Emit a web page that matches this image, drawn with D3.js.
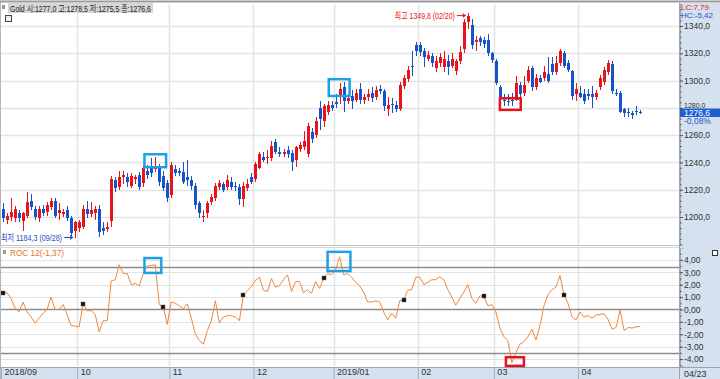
<!DOCTYPE html>
<html>
<head>
<meta charset="utf-8">
<script src="https://cdn.jsdelivr.net/npm/d3@7"></script>
<style>
  body { margin: 0; background: #fff; }
  svg { display: block; font-family: "Liberation Sans Narrow", "Liberation Sans", "Noto Sans CJK KR", sans-serif; }
</style>
</head>
<body>
<div id="chart"></div>
<script>
// Gold daily candles, 2018/09/04 ~ 2019/04/23 (one entry per trading day)
const opens = [
  1206,1198,1200,1199,1203,1197,1201,1212,1206,1199,1206,1204,1207,1212,1203,1202,1205,1199,1190,
  1192,1193,1206,1202,1203,1206,1192,1191,1197,1227,1222,1229,1229,1223,1228,1231,1225,1234,1236,1235,1237,1230,1225,
  1216,1235,1234,1233,1229,1227,1223,1210,1200,1203,1211,1214,1222,1224,1222,1226,1223,1222,1213,1221,1229,
  1228,1236,1244,1243,1243,1255,1248,1246,1249,1247,1242,1250,1251,1246,1262,1260,1280,1270,1277,1282,
  1284,1289,1295,1285,1289,1286,1294,1286,1288,1291,1288,1294,1292,1279,1283,1282,1279,1296,1301,1311,1326,
  1326,1322,1316,1318,1309,1313,1310,1314,1311,1307,1314,1323,1343,1341,1328,1331,1330,1330,1320,
  1314,1295,1286,1285,1286,1286,1297,1291,1300,1309,1295,1302,1302,1305,1312,1306,1313,1320,1313,1307,1290,
  1291,1290,1290,1290,1288,1295,1299,1306,1312,1291,1291,1279,1277,1276,1278,1277.0
];
const highs = [
  1210,1203,1214,1208,1205,1204,1218,1217,1208,1208,1209,1211,1214,1214,1210,1206,1208,1201,1197,
  1198,1209,1212,1211,1208,1209,1196,1196,1230,1229,1234,1234,1232,1232,1231,1233,1238,1238,1243,1244,1239,1234,1227,
  1240,1238,1236,1240,1242,1230,1225,1212,1205,1212,1217,1225,1227,1226,1231,1229,1226,1224,1226,1228,1232,
  1240,1248,1248,1249,1256,1257,1251,1250,1252,1249,1252,1255,1263,1269,1265,1273,1285,1283,1285,1285,
  1290,1298,1299,1290,1293,1294,1298,1290,1294,1295,1296,1297,1294,1288,1287,1285,1299,1304,1311,1322,1328,
  1328,1324,1322,1320,1318,1320,1322,1319,1320,1316,1325,1345,1349.8,1345,1333,1333,1332,1334,1321,
  1316,1297,1290,1290,1291,1303,1299,1303,1311,1311,1305,1304,1311,1317,1317,1318,1323,1322,1315,1308,1298,
  1296,1294,1294,1296,1293,1304,1310,1315,1314,1294,1292,1280,1280,1278,1281,1278.5
];
const lows = [
  1196,1195,1197,1196,1196,1190,1199,1205,1198,1196,1201,1201,1205,1199,1198,1200,1197,1186,1184.3,
  1189,1191,1199,1200,1198,1185,1187,1189,1193,1218,1220,1224,1222,1221,1224,1220,1222,1228,1229,1233,1223,1219,1211,
  1214,1230,1230,1224,1223,1220,1206,1199,1196,1199,1209,1212,1220,1218,1220,1220,1219,1209,1207,1219,1224,
  1226,1235,1240,1239,1241,1246,1244,1244,1243,1234,1237,1248,1249,1244,1254,1258,1264,1266,1275,1278,
  1280,1283,1277,1283,1279,1284,1283,1283,1285,1284,1286,1290,1278,1274,1276,1277,1278,1294,1299,1303,1318,
  1318,1310,1314,1310,1306,1310,1306,1304,1309,1304,1312,1320,1338,1323,1322,1325,1324,1318,1313,
  1297,1284,1281,1281,1281,1285,1288,1289,1298,1292,1293,1298,1300,1298,1304,1304,1311,1309,1306,1286,1285,
  1287,1283,1286,1280,1286,1293,1297,1304,1290,1289,1276,1273,1273,1272,1275,1275.5
];
const closes = [
  1199,1201,1204,1206,1199,1203,1211,1207,1200,1206,1203,1209,1212,1201,1205,1204,1199,1188,1196,
  1196,1206,1202,1205,1206,1189,1190,1193,1228,1221,1229,1231,1226,1230,1229,1222,1236,1231,1232,1236,1226,1221,1214,
  1238,1232,1232,1226,1227,1223,1209,1203,1201,1210,1215,1223,1225,1220,1227,1222,1222,1213,1223,1224,1226,
  1239,1246,1242,1244,1252,1248,1246,1248,1246,1240,1251,1253,1256,1267,1257,1270,1272,1281,1282,1280,
  1283,1294,1285,1287,1285,1291,1286,1288,1290,1287,1293,1292,1281,1282,1282,1279,1297,1302,1308,1310,1322,
  1321,1317,1319,1313,1314,1317,1316,1310,1316,1314,1321,1343,1347,1326,1330,1328,1327,1320,1315,
  1298,1288,1285,1284,1285,1298,1290,1297,1308,1295,1302,1299,1306,1300,1306,1313,1322,1311,1308,1289,1294,
  1288,1285,1289,1288,1291,1302,1308,1313,1292,1290,1277,1276,1276,1275,1277.6,1276.6
];
// ROC 12 (%)
const roc12 = [
  1.3,1.35,0.9,0.1,-0.2,0.6,-0.2,-0.6,-1.1,-0.7,-0.3,0.0,1.0,0.0,0.0,0.4,-0.4,-1.3,-1.35,-1.4,
  0.45,-0.1,-0.1,-0.4,-1.8,-0.9,-0.9,2.3,2.4,3.6,2.9,2.9,2.0,2.1,1.9,2.9,3.5,3.55,3.6,0.4,
  0.2,-1.2,0.6,0.5,0.3,0.05,0.45,-0.7,-2.0,-2.5,-2.8,-1.7,-0.9,0.7,-1.1,-0.6,-0.5,-0.5,-0.6,-0.9,
  1.2,1.5,1.85,2.35,2.6,1.55,1.45,2.5,1.8,1.95,2.4,2.8,1.45,2.25,2.25,1.35,1.6,1.3,2.25,1.7,
  2.5,2.9,2.8,3.2,4.25,2.8,2.9,2.6,2.2,1.9,1.4,0.6,0.6,0.7,0.6,-0.2,-0.85,-0.3,-0.7,0.7,
  0.8,1.55,1.6,2.6,2.6,2.0,2.2,2.4,2.4,2.65,2.4,1.6,1.0,0.35,0.9,1.4,2.0,0.9,0.5,1.1,
  1.05,0.3,0.4,-0.2,-1.5,-2.2,-2.5,-4.3,-3.5,-2.8,-2.6,-2.2,-1.6,-2.45,-1.3,0.3,1.2,1.6,1.8,2.75,
  1.2,0.5,-0.6,-0.85,-0.2,-0.6,-0.5,-0.7,-0.45,-0.4,-0.35,-0.8,-1.6,-1.45,-0.05,-1.7,-1.45,-1.5,-1.4,-1.37
];
const monthLabels = ["2018/09", "10", "11", "12", "2019/01", "02", "03", "04"];
const monthStarts = [0, 19, 42, 63, 83, 104, 123, 144];
const lastDate = "04/23";
const priceTicks = [1200, 1220, 1240, 1260, 1280, 1300, 1320, 1340];
const rocTicks = [-4, -3, -2, -1, 0, 1, 2, 3, 4];
const rocLevels = [3.4, 0, -3.5];
const hiLabel = { i: 116, date: "02/20" };
const loLabel = { i: 18, date: "09/28" };
// highlighted areas: bar-index range and value range
const priceBoxes = [
  { i0: 35.3, i1: 40.7, v0: 1236.5, v1: 1246, c: "blue" },
  { i0: 81.3, i1: 86.5, v0: 1288.7, v1: 1301, c: "blue" },
  { i0: 124, i1: 129.2, v0: 1278.5, v1: 1287, c: "red" }
];
const rocBoxes = [
  { i0: 35.3, i1: 39.5, v0: 2.95, v1: 4.15, c: "blue" },
  { i0: 81, i1: 86.7, v0: 3.1, v1: 4.65, c: "blue" },
  { i0: 125.5, i1: 130, v0: -4.55, v1: -3.85, c: "red" }
];

const W = 720, H = 379;
const plotL = 1, plotR = 679;
const mainTop = 4, mainBot = 245;
const rocTop = 248, rocBot = 366;
const axisTop = 367;
const upColor = "#e8141c", downColor = "#1553c9";
const boxColor = { blue: "#1ea0e6", red: "#e3141f" };
const panelBg = "#d5e1ee";

const loc = d3.formatLocale({ decimal: ",", thousands: "", grouping: [3], currency: ["", ""], minus: "-" });
const f1 = loc.format(".1f"), f2 = loc.format(".2f");

const n = closes.length;
const idx = d3.range(n);

const x = d3.scaleLinear().domain([-0.5, 168.7]).range([plotL, plotR]);
const yP = d3.scaleLinear().domain([1179.5, 1356.1]).range([mainBot, mainTop]);
const yR = d3.scaleLinear().domain([-4.56, 4.96]).range([rocBot, rocTop]);

const svg = d3.select("#chart").append("svg")
  .attr("width", W).attr("height", H);

svg.append("rect").attr("width", W).attr("height", H).attr("fill", "#fff");

const defs = svg.append("defs");
defs.append("clipPath").attr("id", "clipMain").append("rect")
  .attr("x", plotL).attr("y", mainTop).attr("width", plotR - plotL).attr("height", mainBot - mainTop);
defs.append("clipPath").attr("id", "clipRoc").append("rect")
  .attr("x", plotL).attr("y", rocTop).attr("width", plotR - plotL).attr("height", rocBot - rocTop);

// right axis panel + bottom date band
svg.append("rect").attr("x", plotR).attr("y", 3).attr("width", W - plotR).attr("height", H - 3).attr("fill", panelBg);
svg.append("rect").attr("x", 0).attr("y", axisTop).attr("width", plotR).attr("height", H - axisTop).attr("fill", panelBg);

// grids
const gridColor = "#e3e3e3";
const bounds = monthStarts.slice(1).map(i => Math.round(x(i - 0.5)) + 0.5);
const grid = svg.append("g").attr("stroke", gridColor).attr("stroke-width", 1.5);
bounds.forEach(bx => {
  grid.append("line").attr("x1", bx).attr("x2", bx).attr("y1", mainTop).attr("y2", mainBot);
  grid.append("line").attr("x1", bx).attr("x2", bx).attr("y1", rocTop).attr("y2", rocBot);
});
priceTicks.forEach(v => {
  const yy = Math.round(yP(v)) + 0.5;
  grid.append("line").attr("x1", plotL).attr("x2", plotR).attr("y1", yy).attr("y2", yy);
});
rocTicks.forEach(v => {
  const yy = Math.round(yR(v)) + 0.5;
  grid.append("line").attr("x1", plotL).attr("x2", plotR).attr("y1", yy).attr("y2", yy).attr("stroke-width", 1);
});
rocLevels.forEach(v => {
  const yy = Math.round(yR(v)) + 0.5;
  svg.append("line").attr("x1", plotL).attr("x2", plotR).attr("y1", yy).attr("y2", yy)
    .attr("stroke", "#8c8c8c").attr("stroke-width", 1.3);
});

// frame lines
svg.append("line").attr("x1", 0).attr("x2", W).attr("y1", 1.5).attr("y2", 1.5).attr("stroke", "#9a9a9a").attr("stroke-width", 2);
svg.append("line").attr("x1", 0.5).attr("x2", 0.5).attr("y1", 2).attr("y2", H).attr("stroke", "#b5b5b5");
svg.append("line").attr("x1", 0).attr("x2", plotR).attr("y1", mainBot + 0.5).attr("y2", mainBot + 0.5).attr("stroke", "#c4c4c4");
svg.append("line").attr("x1", 0).attr("x2", plotR).attr("y1", mainBot + 2.5).attr("y2", mainBot + 2.5).attr("stroke", "#d8d8d8");
svg.append("line").attr("x1", 0).attr("x2", W).attr("y1", axisTop + 0.5).attr("y2", axisTop + 0.5).attr("stroke", "#9aa5b1");
svg.append("line").attr("x1", plotR + 0.5).attr("x2", plotR + 0.5).attr("y1", 3).attr("y2", H).attr("stroke", "#9aa5b1");

// candles
const candles = svg.append("g").attr("clip-path", "url(#clipMain)").attr("shape-rendering", "crispEdges");
const cg = candles.selectAll("g.c").data(idx).join("g").attr("class", "c")
  .attr("fill", i => closes[i] >= opens[i] ? upColor : downColor)
  .attr("stroke", i => closes[i] >= opens[i] ? upColor : downColor);
cg.append("line")
  .attr("x1", i => Math.round(x(i)) + 0.5).attr("x2", i => Math.round(x(i)) + 0.5)
  .attr("y1", i => yP(highs[i])).attr("y2", i => yP(lows[i]));
cg.append("rect")
  .attr("stroke", "none")
  .attr("x", i => Math.round(x(i)) - 1)
  .attr("width", 3)
  .attr("y", i => yP(Math.max(opens[i], closes[i])))
  .attr("height", i => Math.max(1, Math.abs(yP(opens[i]) - yP(closes[i]))));

// ROC line + periodic markers
const rocG = svg.append("g").attr("clip-path", "url(#clipRoc)");
rocG.append("path").datum(idx)
  .attr("fill", "none").attr("stroke", "#f0873a").attr("stroke-width", 1)
  .attr("d", d3.line().x(i => x(i)).y(i => yR(roc12[i])));
rocG.selectAll("rect.m").data(idx.filter(i => i % 20 === 0)).join("rect").attr("class", "m")
  .attr("x", i => Math.round(x(i)) - 2).attr("y", i => Math.round(yR(roc12[i])) - 2)
  .attr("width", 4).attr("height", 4).attr("fill", "#111").attr("stroke", "#666").attr("stroke-width", 0.5);

// highlight boxes
function drawBoxes(list, ys) {
  svg.append("g").selectAll("rect").data(list).join("rect")
    .attr("x", d => x(d.i0)).attr("y", d => ys(d.v1))
    .attr("width", d => x(d.i1) - x(d.i0)).attr("height", d => ys(d.v0) - ys(d.v1))
    .attr("fill", "none").attr("stroke", d => boxColor[d.c]).attr("stroke-width", 2.5);
}
drawBoxes(priceBoxes, yP);
drawBoxes(rocBoxes, yR);

// current price (drawn first so its tag sits over the nearby tick label)
const last = n - 1;
const lastY = yP(closes[last]);

// right axes
const axP = svg.append("g").attr("transform", `translate(${plotR + 1},0)`)
  .call(d3.axisRight(yP).tickValues(priceTicks).tickSize(3).tickFormat(f1));
const axPm = svg.append("g").attr("transform", `translate(${plotR + 1},0)`)
  .call(d3.axisRight(yP).tickValues(d3.range(1180, 1356, 4)).tickSize(1.5).tickFormat(""));
const axR = svg.append("g").attr("transform", `translate(${plotR + 1},0)`)
  .call(d3.axisRight(yR).tickValues(rocTicks).tickSize(3).tickFormat(f2));
const axRm = svg.append("g").attr("transform", `translate(${plotR + 1},0)`)
  .call(d3.axisRight(yR).tickValues(d3.range(-4.5, 5, 0.5)).tickSize(1.5).tickFormat(""));
[axP, axPm, axR, axRm].forEach(a => {
  a.select(".domain").attr("stroke", "#8d99a6").attr("stroke-dasharray", "1,1");
  a.selectAll(".tick line").attr("stroke", "#555");
  a.selectAll("text").attr("fill", "#333").attr("font-size", 8.5).attr("x", 4)
    .attr("font-family", "Liberation Sans Narrow, Liberation Sans, sans-serif");
});
// the tick label right behind the price tag peeks out above it, as in the source
axP.selectAll(".tick text").filter(d => Math.abs(yP(d) - lastY) < 8).attr("dy", "-0.05em").attr("font-size", 7);

svg.append("rect").attr("x", plotR + 1).attr("y", lastY - 4).attr("width", W - plotR - 1).attr("height", 8.5)
  .attr("fill", "#1d5fd0");
svg.append("text").attr("x", plotR + 5).attr("y", lastY + 3.5).attr("fill", "#fff").attr("font-size", 8.5)
  .text(f1(closes[last]));
svg.append("text").attr("x", plotR + 5).attr("y", lastY + 12).attr("fill", "#1d4fc8").attr("font-size", 8.5)
  .text(loc.format(".2f")((closes[last] / closes[last - 1] - 1) * 100) + "%");

// LC / HC
svg.append("text").attr("x", plotR + 2).attr("y", 9.5).attr("fill", "#e3141f").attr("font-size", 8).text("LC:7,79");
svg.append("text").attr("x", plotR + 2).attr("y", 18).attr("fill", "#1d4fc8").attr("font-size", 8).text("HC:-5,42");

// title
svg.append("rect").attr("x", 2).attr("y", 5).attr("width", 3).attr("height", 4).attr("fill", "#999");
svg.append("rect").attr("x", 8).attr("y", 3).attr("width", 145).attr("height", 10).attr("fill", "#d6d6d6");
svg.append("text").attr("x", 10).attr("y", 11.5).attr("fill", "#222").attr("font-size", 9)
  .attr("textLength", 141).attr("lengthAdjust", "spacingAndGlyphs")
  .text(`Gold 시:${f1(opens[last])} 고:${f1(highs[last])} 저:${f1(lows[last])} 종:${f1(closes[last])}`);
svg.append("rect").attr("x", 5.5).attr("y", 15.5).attr("width", 6).attr("height", 6)
  .attr("fill", "#eee").attr("stroke", "#444");

// high / low labels
const maxHigh = d3.max(highs), minLow = d3.min(lows);
const hx = x(hiLabel.i), hy = yP(maxHigh) + 3;
svg.append("text").attr("x", hx - 73).attr("y", hy + 3.5)
  .attr("fill", "#e3141f").attr("font-size", 9)
  .attr("textLength", 60).attr("lengthAdjust", "spacingAndGlyphs")
  .text(`최고 ${f1(maxHigh)} (${hiLabel.date})`);
svg.append("line").attr("x1", hx - 11).attr("x2", hx - 2).attr("y1", hy).attr("y2", hy).attr("stroke", "#e3141f");
svg.append("path").attr("d", `M${hx - 2},${hy}l-3,-2.5v5z`).attr("fill", "#e3141f");

const lx = x(loLabel.i), ly = yP(minLow) - 1;
svg.append("text").attr("x", 1).attr("y", ly + 3.5)
  .attr("fill", "#1d4fc8").attr("font-size", 9)
  .attr("textLength", 61).attr("lengthAdjust", "spacingAndGlyphs")
  .text(`최저 ${f1(minLow)} (${loLabel.date})`);
svg.append("line").attr("x1", lx - 11).attr("x2", lx - 2).attr("y1", ly).attr("y2", ly).attr("stroke", "#1d4fc8");
svg.append("path").attr("d", `M${lx - 2},${ly}l-3,-2.5v5z`).attr("fill", "#1d4fc8");

// ROC title
svg.append("rect").attr("x", 3).attr("y", 250).attr("width", 3).attr("height", 4).attr("fill", "#999");
svg.append("text").attr("x", 10).attr("y", 256).attr("fill", "#e8741e").attr("font-size", 9)
  .attr("textLength", 54).attr("lengthAdjust", "spacingAndGlyphs")
  .text(`ROC 12(${f2(roc12[last])})`);
svg.append("rect").attr("x", 712.5).attr("y", 250.5).attr("width", 5).attr("height", 5)
  .attr("fill", "#fff").attr("stroke", "#333");

// date axis
const axX = svg.append("g").attr("transform", `translate(0,${axisTop})`)
  .call(d3.axisBottom(x).tickValues(monthStarts.map(i => i - 0.5)).tickSize(12)
    .tickFormat((d, k) => monthLabels[k]));
axX.select(".domain").remove();
axX.selectAll(".tick line").attr("stroke", "#a3aeba");
axX.selectAll("text").attr("fill", "#333").attr("font-size", 9).attr("text-anchor", "start")
  .attr("x", 3).attr("y", 2).attr("dy", "0.71em");
svg.append("text").attr("x", plotR + 5).attr("y", 377).attr("fill", "#333").attr("font-size", 9).text(lastDate);
</script>
</body>
</html>
